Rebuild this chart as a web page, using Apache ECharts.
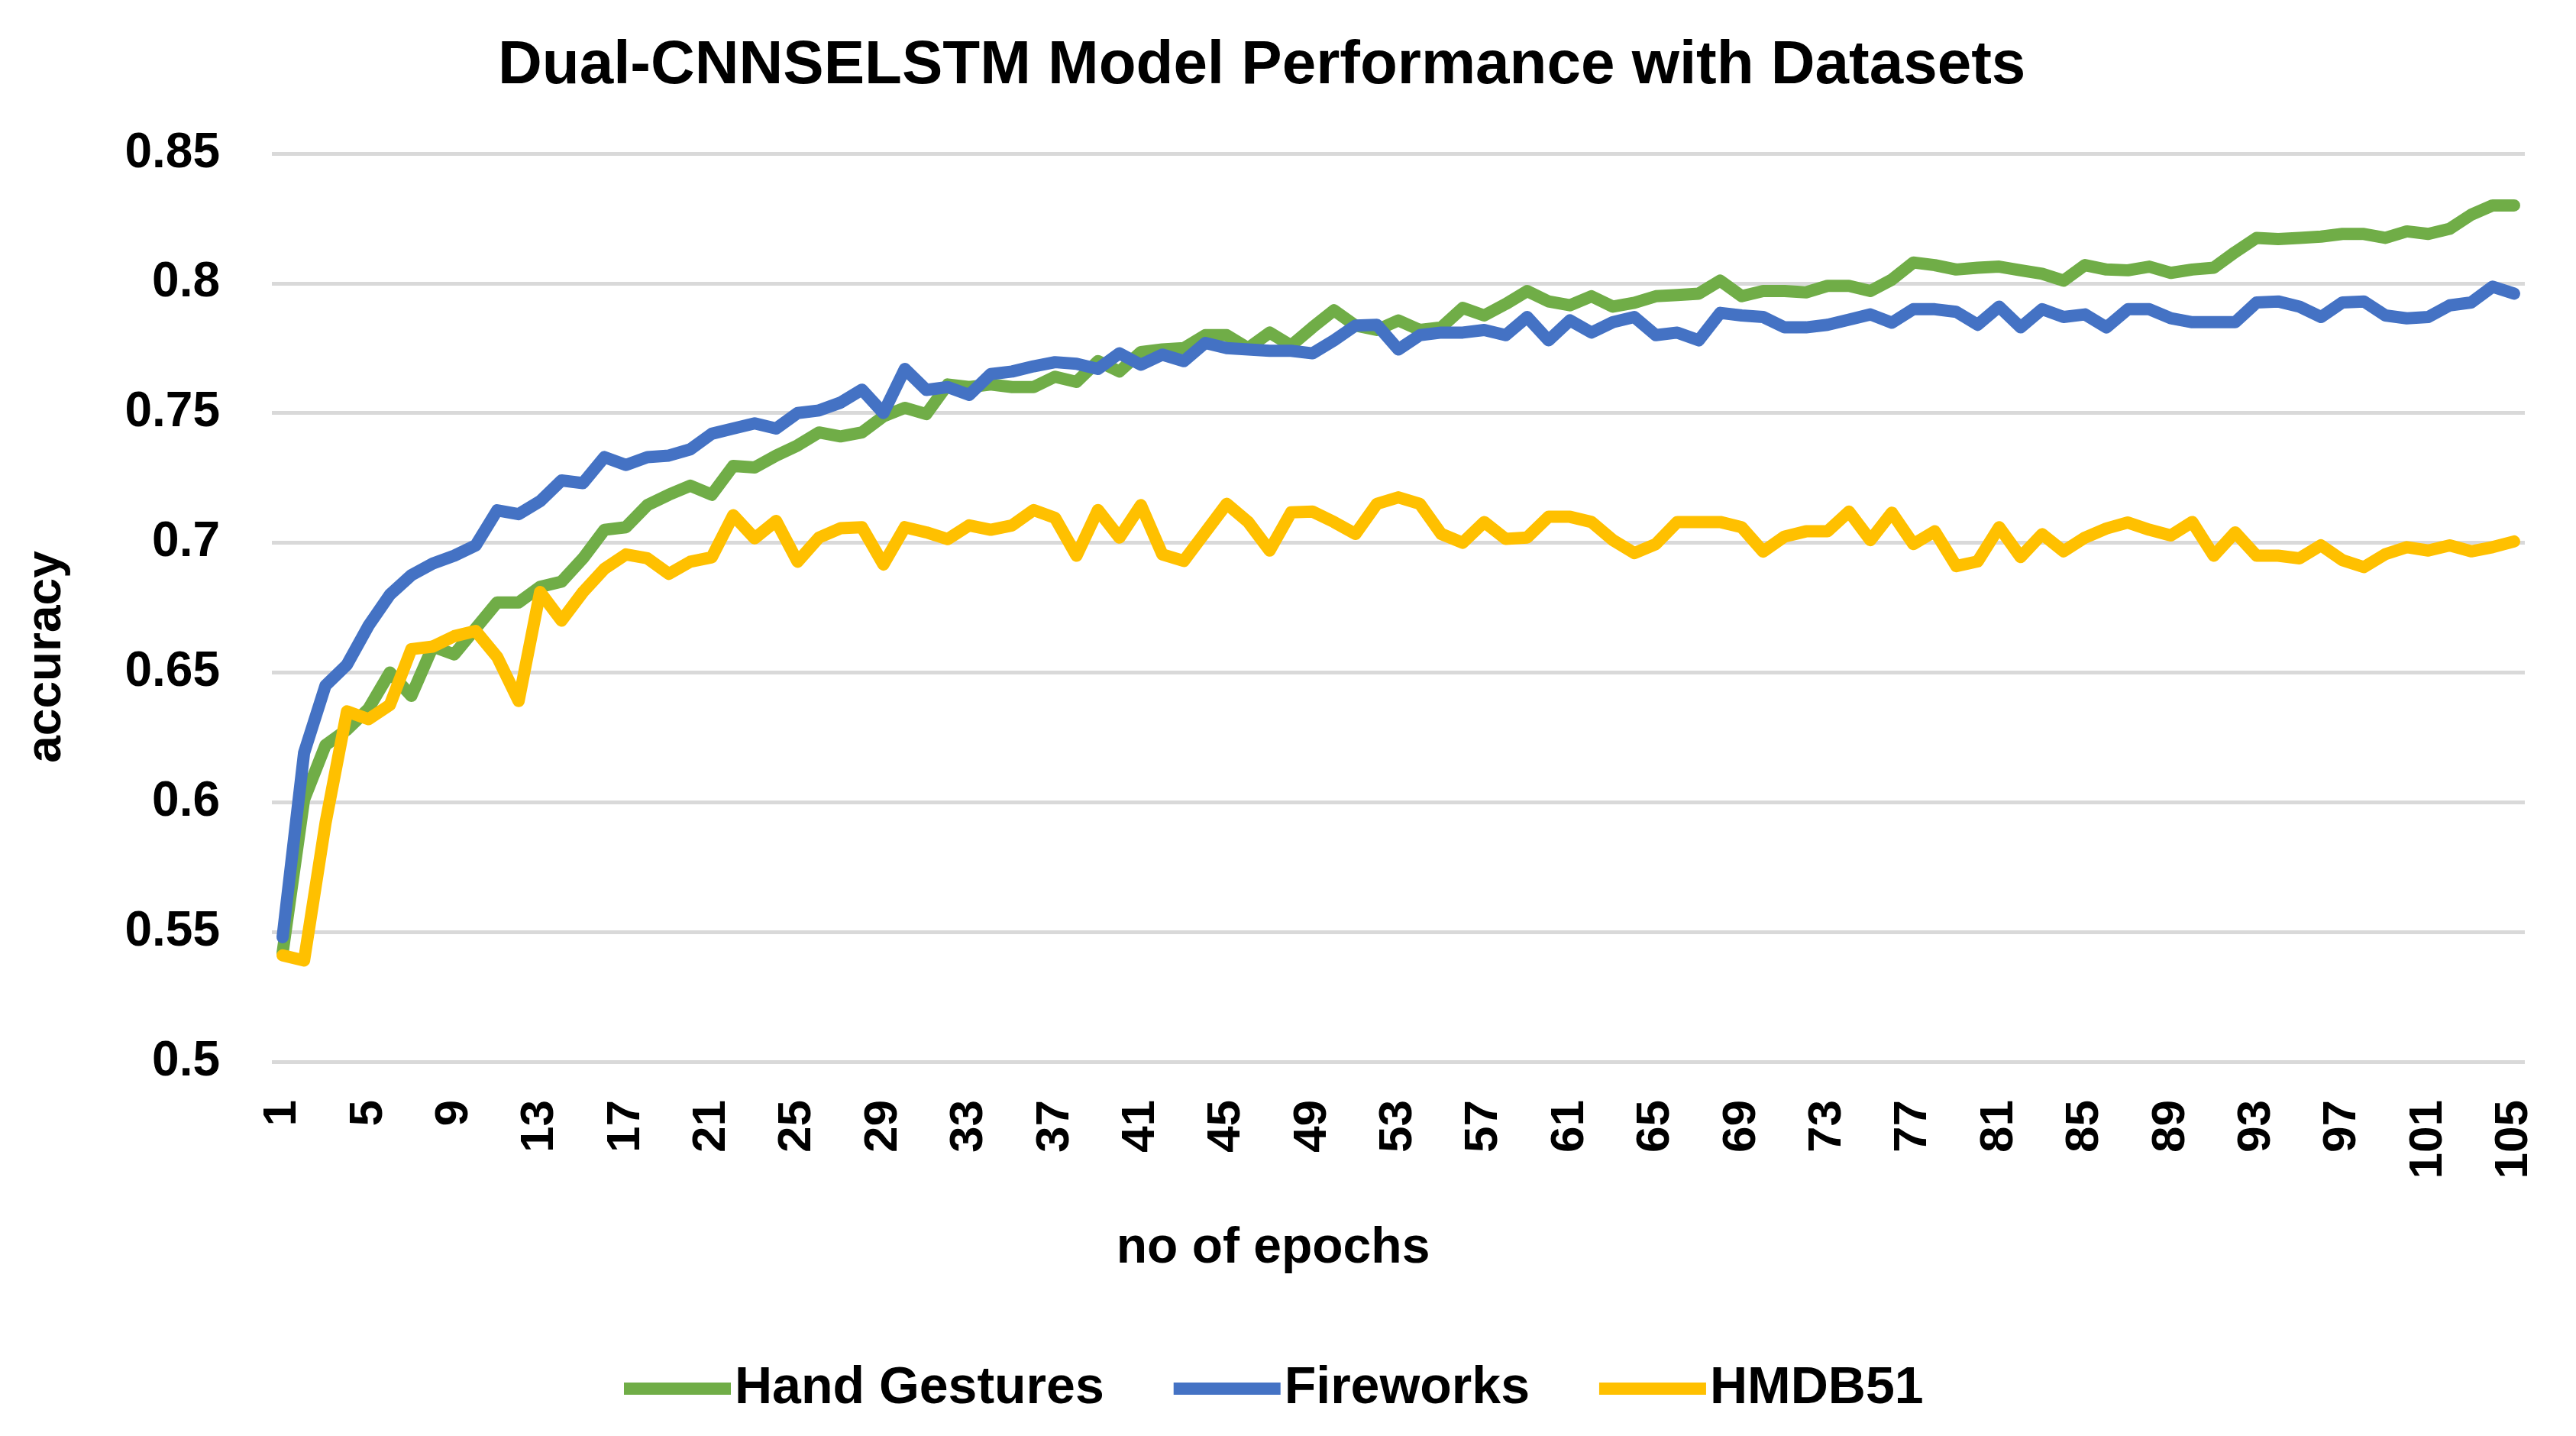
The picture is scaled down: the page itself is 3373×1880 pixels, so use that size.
<!DOCTYPE html>
<html>
<head>
<meta charset="utf-8">
<script src="https://cdn.jsdelivr.net/npm/echarts@6/dist/echarts.min.js"></script>
<style>
html,body{margin:0;padding:0;background:#fff;}
#c{width:3373px;height:1880px;}
</style>
</head>
<body>
<div id="c"></div>
<script>
const epochs = Array.from({length:105},(_,i)=>String(i+1));
const seriesNames = ['Hand Gestures','Fireworks','HMDB51'];
const yTicks = [0.5,0.55,0.6,0.65,0.7,0.75,0.8,0.85];

const handGestures = [
0.542,0.601,0.622,0.628,0.636,0.650,0.641,0.660,0.657,0.667,
0.677,0.677,0.683,0.685,0.694,0.705,0.706,0.7145,0.7185,0.722,
0.7185,0.7296,0.729,0.7336,0.7375,0.7425,0.741,0.7425,0.7487,0.752,
0.7496,0.761,0.760,0.761,0.760,0.760,0.764,0.762,0.770,0.766,
0.7735,0.7745,0.775,0.780,0.780,0.775,0.781,0.776,0.783,0.7896,
0.7837,0.782,0.7857,0.782,0.783,0.7905,0.7876,0.792,0.797,0.793,
0.7915,0.795,0.791,0.7925,0.795,0.7955,0.796,0.801,0.795,0.797,
0.797,0.7965,0.799,0.799,0.797,0.8014,0.808,0.807,0.8053,0.806,
0.8064,0.805,0.8037,0.801,0.807,0.8053,0.805,0.8064,0.804,0.8053,
0.806,0.812,0.8175,0.817,0.8175,0.818,0.819,0.819,0.8175,0.820,
0.819,0.821,0.8264,0.830,0.830];

const fireworks = [
0.548,0.619,0.645,0.653,0.668,0.680,0.6875,0.692,0.695,0.699,
0.7125,0.711,0.716,0.724,0.723,0.733,0.730,0.733,0.7336,0.736,
0.742,0.744,0.746,0.744,0.750,0.751,0.754,0.759,0.750,0.767,
0.7589,0.760,0.757,0.765,0.766,0.768,0.7696,0.769,0.767,0.773,
0.7686,0.7725,0.770,0.777,0.775,0.7745,0.774,0.774,0.773,0.778,
0.7837,0.784,0.7745,0.780,0.781,0.781,0.782,0.780,0.787,0.778,
0.7857,0.781,0.785,0.787,0.780,0.781,0.778,0.7886,0.7876,0.787,
0.783,0.783,0.784,0.786,0.788,0.7848,0.790,0.790,0.789,0.784,
0.791,0.783,0.790,0.787,0.788,0.783,0.790,0.790,0.7865,0.785,
0.785,0.785,0.7926,0.793,0.791,0.787,0.7926,0.793,0.7876,0.7865,
0.787,0.7915,0.7926,0.7987,0.796];

const hmdb51 = [
0.541,0.539,0.592,0.635,0.632,0.6375,0.659,0.660,0.664,0.666,
0.656,0.639,0.681,0.670,0.681,0.690,0.6955,0.694,0.688,0.6927,
0.6944,0.7106,0.7017,0.7084,0.6927,0.702,0.7056,0.706,0.6916,0.706,
0.704,0.7014,0.7067,0.705,0.7067,0.7126,0.7096,0.695,0.7126,0.702,
0.7145,0.6955,0.693,0.704,0.715,0.708,0.697,0.7117,0.712,0.708,
0.7034,0.715,0.7175,0.715,0.7034,0.700,0.708,0.7015,0.702,0.710,
0.710,0.708,0.701,0.696,0.6995,0.708,0.708,0.708,0.706,0.6966,
0.7024,0.7044,0.7044,0.712,0.701,0.7116,0.6995,0.7044,0.691,0.6928,
0.706,0.6945,0.7033,0.6967,0.702,0.7055,0.7078,0.705,0.7028,0.708,
0.695,0.704,0.695,0.695,0.694,0.699,0.6933,0.6906,0.6956,0.6983,
0.697,0.699,0.6967,0.6983,0.7005];

const colors = ['#70AD47','#4472C4','#FFC000'];
const FONT = '"Liberation Sans", Arial, sans-serif';

const chart = echarts.init(document.getElementById('c'), null, {renderer:'canvas', devicePixelRatio:1});

function mkSeries(name, data, color){
  return {
    name: name, type:'line', data: data,
    showSymbol:false, symbol:'none', smooth:false,
    lineStyle:{color:color, width:16, cap:'round', join:'round'},
    itemStyle:{color:color},
    emphasis:{disabled:true},
    animation:false
  };
}

chart.setOption({
  animation:false,
  backgroundColor:'#ffffff',
  color: colors,
  title:{
    text:'Dual-CNNSELSTM Model Performance with Datasets',
    left:647, top:42,
    textStyle:{fontFamily:FONT, fontSize:80, fontWeight:'bold', color:'#000'}
  },
  legend:{
    data: seriesNames,
    left:812, top:1779,
    icon:'rect',
    itemWidth:140, itemHeight:16, itemGap:91,
    textStyle:{fontFamily:FONT, fontSize:68, fontWeight:'bold', color:'#000'}
  },
  grid:{left:356, right:67, top:201, bottom:490, containLabel:false},
  xAxis:{
    type:'category', data: epochs, boundaryGap:true,
    axisLine:{show:false}, axisTick:{show:false},
    axisLabel:{interval:3, rotate:90, margin:50, fontFamily:FONT, fontSize:62, fontWeight:'bold', color:'#000'},
    splitLine:{show:false}
  },
  yAxis:{
    type:'value', min:0.5, max:0.85, interval:0.05,
    axisLine:{show:false}, axisTick:{show:false},
    axisLabel:{margin:68, fontFamily:FONT, fontSize:64, fontWeight:'bold', color:'#000',
      formatter:function(v){ return String(+v.toFixed(2)); }},
    splitLine:{show:true, lineStyle:{color:'#D9D9D9', width:5}}
  },
  graphic:[
    {type:'text', x:61, y:860, rotation:Math.PI/2,
      style:{text:'accuracy', fontFamily:FONT, fontSize:64, fontWeight:'bold', fill:'#000', textAlign:'center', textVerticalAlign:'middle'}},
    {type:'text', x:1667, y:1635,
      style:{text:'no of epochs', fontFamily:FONT, fontSize:66, fontWeight:'bold', fill:'#000', textAlign:'center', textVerticalAlign:'middle'}}
  ],
  series:[
    mkSeries(seriesNames[0], handGestures, colors[0]),
    mkSeries(seriesNames[1], fireworks, colors[1]),
    mkSeries(seriesNames[2], hmdb51, colors[2])
  ]
});
</script>
</body>
</html>
